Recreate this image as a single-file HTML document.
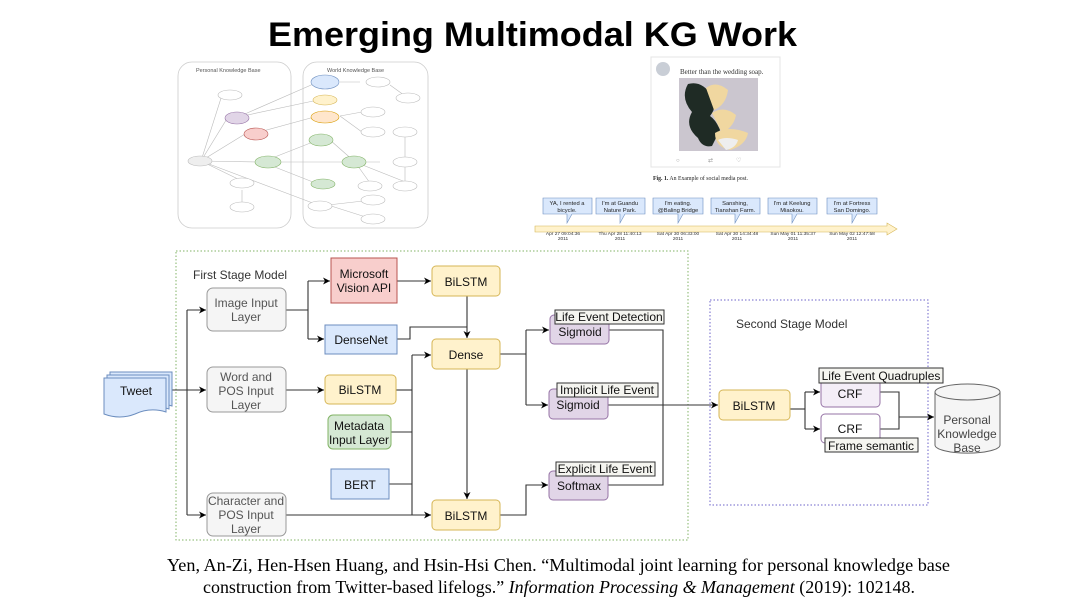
<!DOCTYPE html>
<html><head><meta charset="utf-8"><style>
html,body{margin:0;padding:0;background:#fff;width:1080px;height:608px;overflow:hidden}
svg{display:block}
text{font-family:"Liberation Sans",sans-serif}
</style></head><body>
<svg width="1080" height="608" viewBox="0 0 1080 608" xmlns="http://www.w3.org/2000/svg">
<defs>
<marker id="a" markerWidth="8" markerHeight="8" refX="7" refY="4" orient="auto" markerUnits="userSpaceOnUse"><path d="M0,0.5 L7,4 L0,7.5 L2,4 Z" fill="#000"/></marker>
</defs>
<text x="268" y="46" font-size="34" font-weight="bold" textLength="529" lengthAdjust="spacingAndGlyphs">Emerging Multimodal KG Work</text>

<!-- KG image -->
<g stroke="#ccc" fill="none" stroke-width="0.8">
<rect x="178" y="62" width="113" height="166" rx="14"/>
<rect x="303" y="62" width="125" height="166" rx="14"/>
</g>
<text x="196" y="72" font-size="5.5" fill="#555">Personal Knowledge Base</text>
<text x="327" y="72" font-size="5.5" fill="#555">World Knowledge Base</text>
<g stroke="#bbb" stroke-width="0.6">
<line x1="201" y1="161" x2="222" y2="95"/><line x1="201" y1="161" x2="228" y2="117"/><line x1="201" y1="161" x2="245" y2="134"/>
<line x1="201" y1="161" x2="260" y2="162"/><line x1="201" y1="161" x2="242" y2="181"/><line x1="201" y1="161" x2="318" y2="205"/>
<line x1="238" y1="117" x2="318" y2="82"/><line x1="238" y1="117" x2="318" y2="100"/><line x1="252" y1="134" x2="318" y2="116"/>
<line x1="262" y1="162" x2="318" y2="140"/><line x1="262" y1="162" x2="345" y2="162"/><line x1="262" y1="162" x2="318" y2="184"/>
<line x1="330" y1="140" x2="355" y2="162"/><line x1="355" y1="162" x2="380" y2="162"/><line x1="355" y1="162" x2="370" y2="183"/><line x1="355" y1="162" x2="408" y2="183"/>
<line x1="340" y1="82" x2="360" y2="82"/><line x1="390" y1="85" x2="408" y2="98"/><line x1="340" y1="116" x2="362" y2="112"/><line x1="340" y1="116" x2="362" y2="132"/>
<line x1="405" y1="135" x2="405" y2="160"/><line x1="405" y1="165" x2="405" y2="182"/><line x1="242" y1="190" x2="242" y2="205"/>
<line x1="328" y1="205" x2="372" y2="200"/><line x1="328" y1="205" x2="372" y2="219"/>
</g>
<g stroke="#bbb" stroke-width="0.6" fill="#fff">
<ellipse cx="200" cy="161" rx="12" ry="5" fill="#eee"/>
<ellipse cx="230" cy="95" rx="12" ry="5"/><ellipse cx="242" cy="183" rx="12" ry="5"/><ellipse cx="242" cy="207" rx="12" ry="5"/>
<ellipse cx="378" cy="82" rx="12" ry="5"/><ellipse cx="408" cy="98" rx="12" ry="5"/><ellipse cx="373" cy="112" rx="12" ry="5"/>
<ellipse cx="373" cy="132" rx="12" ry="5"/><ellipse cx="405" cy="132" rx="12" ry="5"/><ellipse cx="405" cy="162" rx="12" ry="5"/>
<ellipse cx="370" cy="186" rx="12" ry="5"/><ellipse cx="405" cy="186" rx="12" ry="5"/><ellipse cx="320" cy="206" rx="12" ry="5"/>
<ellipse cx="373" cy="200" rx="12" ry="5"/><ellipse cx="373" cy="219" rx="12" ry="5"/>
<ellipse cx="237" cy="118" rx="12" ry="6" fill="#e1d5e7" stroke="#9673a6"/>
<ellipse cx="256" cy="134" rx="12" ry="6" fill="#f8cecc" stroke="#b85450"/>
<ellipse cx="268" cy="162" rx="13" ry="6" fill="#d5e8d4" stroke="#82b366"/>
<ellipse cx="325" cy="82" rx="14" ry="7" fill="#dae8fc" stroke="#6c8ebf"/>
<ellipse cx="325" cy="100" rx="12" ry="5" fill="#fff2cc" stroke="#d6b656"/>
<ellipse cx="325" cy="117" rx="14" ry="6" fill="#ffe6cc" stroke="#d79b00"/>
<ellipse cx="321" cy="140" rx="12" ry="6" fill="#d5e8d4" stroke="#82b366"/>
<ellipse cx="354" cy="162" rx="12" ry="6" fill="#d5e8d4" stroke="#82b366"/>
<ellipse cx="323" cy="184" rx="12" ry="5" fill="#d5e8d4" stroke="#82b366"/>
</g>

<!-- tweet card -->
<rect x="651" y="57" width="129" height="110" fill="#fff" stroke="#e4e4e4"/>
<circle cx="663" cy="69" r="7" fill="#c9ced6"/>
<text x="680" y="74" font-size="7" fill="#333" style="font-family:'Liberation Serif',serif">Better than the wedding soap.</text>
<rect x="679" y="78" width="79" height="73" fill="#cbc6cf"/>
<path d="M688,84 q-8,14 4,28 q-8,14 6,26 q4,10 14,8 l8,-16 q-4,-10 -10,-14 q8,-10 2,-20 q-10,-16 -24,-12z" fill="#1f2b25"/>
<path d="M706,88 q10,-8 22,2 q-2,15 -14,20z M712,113 q12,-8 24,2 q-2,12 -14,18z M715,133 q14,-8 33,0 q-2,12 -18,17 q-15,-3 -15,-17z" fill="#f0d7a0"/>
<path d="M718,140 q8,-4 20,0 q-2,8 -12,10z" fill="#eee"/>
<text x="676" y="162" font-size="6" fill="#999">○</text><text x="708" y="162" font-size="6" fill="#999">⇄</text><text x="736" y="162" font-size="6" fill="#999">♡</text>
<text x="653" y="180" font-size="5.8" fill="#222" style="font-family:'Liberation Serif',serif"><tspan font-weight="bold">Fig. 1.</tspan> An Example of social media post.</text>

<!-- timeline -->
<path d="M535,226 H887 V223 L897,229 L887,235 V232 H535 Z" fill="#fff2cc" stroke="#d6b656" stroke-width="0.6"/>
<g fill="#dae8fc" stroke="#6c8ebf" stroke-width="0.6">
<path d="M543,198 h49 v16 h-20 l-5,9 v-9 h-24z"/>
<path d="M596,198 h49 v16 h-20 l-5,9 v-9 h-24z"/>
<path d="M653,198 h50 v16 h-20 l-5,9 v-9 h-25z"/>
<path d="M711,198 h49 v16 h-20 l-5,9 v-9 h-24z"/>
<path d="M768,198 h49 v16 h-20 l-5,9 v-9 h-24z"/>
<path d="M827,198 h50 v16 h-20 l-5,9 v-9 h-25z"/>
</g>
<g font-size="5.8" fill="#222" text-anchor="middle">
<text x="567" y="205">YA, I rented a</text><text x="567" y="212">bicycle.</text>
<text x="620" y="205">I'm at Guandu</text><text x="620" y="212">Nature Park.</text>
<text x="678" y="205">I'm eating.</text><text x="678" y="212">@Baling Bridge</text>
<text x="735" y="205">Sanshing,</text><text x="735" y="212">Tianshan Farm.</text>
<text x="792" y="205">I'm at Keelung</text><text x="792" y="212">Miaokou.</text>
<text x="852" y="205">I'm at Fortress</text><text x="852" y="212">San Domingo.</text>
</g>
<g font-size="4.8" fill="#333" text-anchor="middle">
<text x="563" y="235">Apr 27 09:04:36</text><text x="563" y="240">2011</text>
<text x="620" y="235">Thu Apr 28 11:40:13</text><text x="620" y="240">2011</text>
<text x="678" y="235">Sat Apr 30 06:33:00</text><text x="678" y="240">2011</text>
<text x="737" y="235">Sat Apr 30 14:34:48</text><text x="737" y="240">2011</text>
<text x="793" y="235">Sun May 01 11:35:37</text><text x="793" y="240">2011</text>
<text x="852" y="235">Sun May 02 12:47:58</text><text x="852" y="240">2011</text>
</g>

<!-- first stage -->
<rect x="176" y="251" width="512" height="289" fill="none" stroke="#82b366" stroke-dasharray="1.5,2" stroke-width="1"/>
<text x="193" y="279" font-size="12" fill="#333">First Stage Model</text>
<rect x="710" y="300" width="218" height="205" fill="none" stroke="#6c63c9" stroke-dasharray="1.5,2" stroke-width="1"/>
<text x="736" y="328" font-size="12" fill="#333">Second Stage Model</text>

<!-- connectors -->
<g stroke="#333" stroke-width="1.1" fill="none">
<path d="M168,390 H187"/><path d="M187,310 V515"/>
<path d="M187,310 H206" marker-end="url(#a)"/><path d="M187,390 H206" marker-end="url(#a)"/><path d="M187,515 H206" marker-end="url(#a)"/>
<path d="M286,310 H308"/><path d="M308,281 V339"/>
<path d="M308,281 H330" marker-end="url(#a)"/><path d="M308,339 H324" marker-end="url(#a)"/>
<path d="M286,390 H324" marker-end="url(#a)"/>
<path d="M397,281 H431" marker-end="url(#a)"/>
<path d="M467,296 V338" marker-end="url(#a)"/>
<path d="M397,339 H410 V327 H467"/>
<path d="M412,355 V515"/>
<path d="M412,355 H431" marker-end="url(#a)"/>
<path d="M396,390 H412"/><path d="M391,432 H412"/><path d="M389,484 H412"/>
<path d="M286,515 H431" marker-end="url(#a)"/>
<path d="M467,369 V499" marker-end="url(#a)"/>
<path d="M500,354 H526"/><path d="M526,330 V405"/>
<path d="M526,330 H549" marker-end="url(#a)"/><path d="M526,405 H548" marker-end="url(#a)"/>
<path d="M500,515 H526 V485 H548" marker-end="url(#a)"/>
<path d="M609,330 H663 V485 H608"/>
<path d="M608,405 H718" marker-end="url(#a)"/>
<path d="M790,409 H805"/><path d="M805,392 V429"/>
<path d="M805,392 H820" marker-end="url(#a)"/><path d="M805,429 H820" marker-end="url(#a)"/>
<path d="M880,392 H899 V429 H880"/><path d="M899,417 H934" marker-end="url(#a)"/>
</g>

<!-- nodes -->
<g stroke-width="1">
<path d="M110,372 h62 v34 q-16,-5 -31,2 q-15,6 -31,0 z" fill="#dae8fc" stroke="#6c8ebf"/>
<path d="M107,375 h62 v34 q-16,-5 -31,2 q-15,6 -31,0 z" fill="#dae8fc" stroke="#6c8ebf"/>
<path d="M104,378 h62 v34 q-16,-5 -31,2 q-15,6 -31,0 z" fill="#dae8fc" stroke="#6c8ebf"/>
<rect x="207" y="288" width="79" height="43" rx="6" fill="#f5f5f5" stroke="#999"/>
<rect x="207" y="367" width="79" height="45" rx="6" fill="#f5f5f5" stroke="#999"/>
<rect x="207" y="493" width="79" height="43" rx="6" fill="#f5f5f5" stroke="#999"/>
<rect x="331" y="258" width="66" height="45" fill="#f8cecc" stroke="#b85450"/>
<rect x="325" y="325" width="72" height="29" fill="#dae8fc" stroke="#6c8ebf"/>
<rect x="325" y="375" width="71" height="29" rx="4" fill="#fff2cc" stroke="#d6b656"/>
<rect x="328" y="415" width="63" height="34" rx="5" fill="#d5e8d4" stroke="#82b366"/>
<rect x="331" y="469" width="58" height="30" fill="#dae8fc" stroke="#6c8ebf"/>
<rect x="432" y="266" width="68" height="30" rx="4" fill="#fff2cc" stroke="#d6b656"/>
<rect x="432" y="339" width="68" height="30" rx="4" fill="#fff2cc" stroke="#d6b656"/>
<rect x="432" y="500" width="68" height="30" rx="4" fill="#fff2cc" stroke="#d6b656"/>
<rect x="550" y="315" width="59" height="29" rx="4" fill="#e1d5e7" stroke="#9673a6"/>
<rect x="549" y="389" width="59" height="30" rx="4" fill="#e1d5e7" stroke="#9673a6"/>
<rect x="549" y="471" width="59" height="29" rx="4" fill="#e1d5e7" stroke="#9673a6"/>
<rect x="719" y="390" width="71" height="30" rx="4" fill="#fff2cc" stroke="#d6b656"/>
<rect x="821" y="380" width="59" height="27" rx="4" fill="#f4eef7" stroke="#9673a6"/>
<rect x="821" y="414" width="59" height="29" rx="4" fill="#fff" stroke="#9673a6"/>
<path d="M935,392 V445 A32,8 0 0 0 1000,445 V392" fill="#f5f5f5" stroke="#666"/>
<ellipse cx="967.5" cy="392" rx="32.5" ry="8" fill="#f5f5f5" stroke="#666"/>
</g>
<g fill="#f5f5f0" stroke="#333" stroke-width="1">
<rect x="555" y="310" width="109" height="14"/>
<rect x="557" y="383" width="101" height="14"/>
<rect x="556" y="462" width="99" height="14"/>
<rect x="819" y="368" width="124" height="15"/>
<rect x="825" y="438" width="93" height="14"/>
</g>
<g font-size="12" fill="#111" text-anchor="middle">
<text x="136" y="395">Tweet</text>
<text x="246" y="307" fill="#555">Image Input</text><text x="246" y="321" fill="#555">Layer</text>
<text x="246" y="381" fill="#555">Word and</text><text x="246" y="395" fill="#555">POS Input</text><text x="246" y="409" fill="#555">Layer</text>
<text x="246" y="505" fill="#555">Character and</text><text x="246" y="519" fill="#555">POS Input</text><text x="246" y="533" fill="#555">Layer</text>
<text x="364" y="278">Microsoft</text><text x="364" y="292">Vision API</text>
<text x="361" y="344">DenseNet</text>
<text x="360" y="394">BiLSTM</text>
<text x="359" y="430">Metadata</text><text x="359" y="444">Input Layer</text>
<text x="360" y="489">BERT</text>
<text x="466" y="286">BiLSTM</text>
<text x="466" y="359">Dense</text>
<text x="466" y="520">BiLSTM</text>
<text x="580" y="336">Sigmoid</text>
<text x="578" y="409">Sigmoid</text>
<text x="579" y="490">Softmax</text>
<text x="754" y="410">BiLSTM</text>
<text x="850" y="398">CRF</text>
<text x="850" y="433">CRF</text>
<text x="967" y="424" fill="#444">Personal</text><text x="967" y="438" fill="#444">Knowledge</text><text x="967" y="452" fill="#444">Base</text>
<text x="609" y="321">Life Event Detection</text>
<text x="607" y="394">Implicit Life Event</text>
<text x="605" y="473">Explicit Life Event</text>
<text x="881" y="380">Life Event Quadruples</text>
<text x="871" y="450">Frame semantic</text>
</g>

<!-- citation -->
<text x="167" y="571" font-size="17.5" textLength="783" lengthAdjust="spacingAndGlyphs" style="font-family:'Liberation Serif',serif">Yen, An-Zi, Hen-Hsen Huang, and Hsin-Hsi Chen. “Multimodal joint learning for personal knowledge base</text>
<text x="203" y="593" font-size="17.5" textLength="712" lengthAdjust="spacingAndGlyphs" style="font-family:'Liberation Serif',serif">construction from Twitter-based lifelogs.” <tspan font-style="italic">Information Processing &amp; Management</tspan> (2019): 102148.</text>
</svg>
</body></html>
